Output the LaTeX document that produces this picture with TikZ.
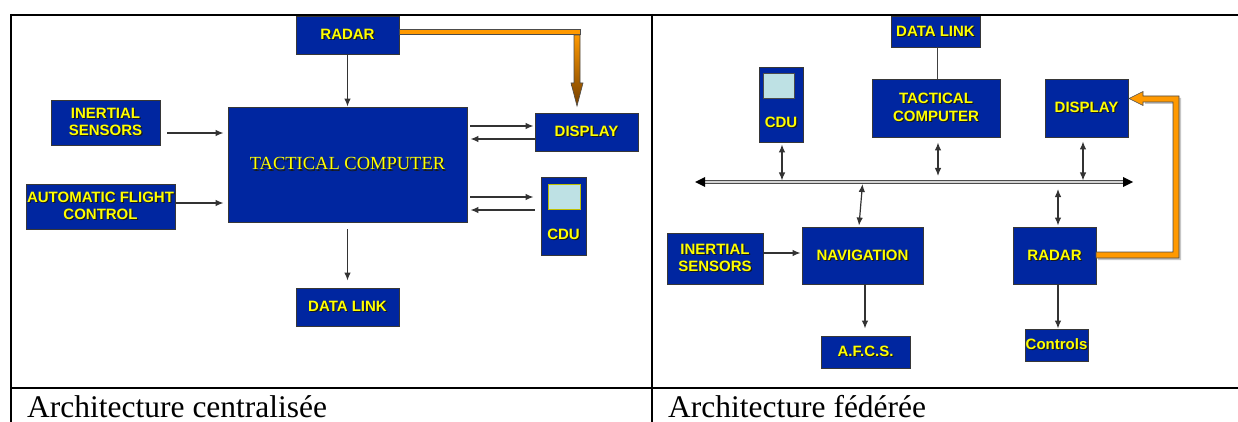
\documentclass[tikz,border=0pt]{standalone}
\usepackage{fontspec}
\setmainfont{Liberation Serif}
\newfontfamily\arialf{Liberation Sans}
\usetikzlibrary{arrows.meta,calc}
\definecolor{boxblue}{RGB}{0,38,160}
\definecolor{boxedge}{RGB}{55,55,55}
\definecolor{txtyel}{RGB}{255,255,0}
\definecolor{txtsh}{RGB}{25,25,25}
\definecolor{orng}{RGB}{255,153,0}
\definecolor{brwn}{RGB}{115,62,0}
\definecolor{scrn}{RGB}{190,225,228}
\newcommand\shd[1]{\makebox[0pt][l]{\hspace{1.1pt}\raisebox{-1.1pt}{\textcolor{txtsh}{#1}}}#1}
\begin{document}
\begin{tikzpicture}[x=1pt,y=-1pt,
  blk/.style={draw=boxedge, line width=0.9pt, fill=boxblue, text=txtyel, inner sep=0pt,
    font=\arialf\bfseries\fontsize{15}{17.5}\selectfont, align=center},
  lbl/.style={text=txtyel, inner sep=0pt, font=\arialf\bfseries\fontsize{15}{17.5}\selectfont},
  arr/.style={-{Latex[length=8pt,width=6.5pt]}, line width=1.2pt, draw=black!80},
  darr/.style={{Latex[length=8pt,width=6.5pt]}-{Latex[length=8pt,width=6.5pt]}, line width=1.2pt, draw=black!80},
  gridline/.style={line width=2pt, draw=black},
  captxt/.style={anchor=base west, inner sep=0pt, font=\fontsize{31.5}{36}\selectfont},
  orangebar/.style={fill=orng, draw=black!70, line width=0.6pt, line join=miter},
  screen/.style={fill=scrn, line width=0.6pt}
]
\useasboundingbox (0,0) rectangle (1238,422);

% table grid
\draw[gridline] (11,15) -- (1238,15);
\draw[gridline] (11,388) -- (1238,388);
\draw[gridline] (11,14) -- (11,422);
\draw[gridline] (652,14) -- (652,422);

% ---------------- left panel ----------------
\node[blk, minimum width=103pt, minimum height=38pt] (radarL) at (347.5,35) {\shd{RADAR}};
\node[blk, minimum width=239pt, minimum height=115pt, font=\rmfamily\fontsize{18.5}{22}\selectfont] (tcL) at (347.5,164.5) {\shd{TACTICAL COMPUTER}};
\node[blk, minimum width=109pt, minimum height=45pt] (isL) at (105.5,122.5) {\shd{INERTIAL}\\\shd{SENSORS}};
\node[blk, minimum width=149pt, minimum height=45pt] (afcL) at (100.5,206.5) {\shd{AUTOMATIC FLIGHT}\\\shd{CONTROL}};
\node[blk, minimum width=103pt, minimum height=38pt] (dispL) at (586.5,132) {\shd{DISPLAY}};
\node[blk, minimum width=45pt, minimum height=78pt] (cduL) at (563.5,216) {};
\draw[screen, draw=txtyel!75!black] (548,184) rectangle (580,209);
\node[lbl] (cduLt) at (563.5,235) {\shd{CDU}};
\node[blk, minimum width=103pt, minimum height=38pt] (dlL) at (347.5,307) {\shd{DATA LINK}};

\draw[arr] (radarL.south) -- (tcL.north);
\coordinate (a1) at ($(isL.east)+(7,10.5)$);
\draw[arr] (a1) -- ($(tcL.west|-a1)+(-4,0)$);
\coordinate (a2) at ($(afcL.east)+(0,-3.5)$);
\draw[arr] (a2) -- ($(tcL.west|-a2)+(-4,0)$);
\coordinate (a3) at ($(dispL.west)+(-1,-6)$);
\draw[arr] ($(tcL.east|-a3)+(3,0)$) -- (a3);
\coordinate (a4) at ($(dispL.west)+(0,7)$);
\draw[arr] (a4) -- ($(tcL.east|-a4)+(3,0)$);
\coordinate (a5) at ($(cduL.west)+(-7,-19)$);
\draw[arr] ($(tcL.east|-a5)+(3,0)$) -- (a5);
\coordinate (a6) at ($(cduL.west)+(-6,-6)$);
\draw[arr] (a6) -- ($(tcL.east|-a6)+(3,0)$);
\draw[arr] ($(tcL.south)+(0,7)$) -- ($(dlL.north)+(0,-7)$);

% orange link radar -> display (left)
\draw[orangebar] ($(radarL.east)+(0,-6)$) rectangle ($(radarL.east)+(181,-1)$);
\shadedraw[top color=orng, bottom color=brwn, draw=black!70, line width=0.6pt, line join=miter]
  (574,35) -- (580,35) -- (580,83) -- (583,83) -- (577,106) -- (571,83) -- (574,83) -- cycle;

% ---------------- right panel ----------------
\node[blk, minimum width=89pt, minimum height=31pt] (dlR) at (935.5,31.5) {\shd{DATA LINK}};
\node[blk, minimum width=128pt, minimum height=58pt] (tcR) at (936,108) {\shd{TACTICAL}\\\shd{COMPUTER}};
\node[blk, minimum width=44pt, minimum height=75pt] (cduR) at (781,104.5) {};
\draw[screen, draw=black!70] (763,73) rectangle (794,98);
\node[lbl] (cduRt) at (781,123) {\shd{CDU}};
\node[blk, minimum width=83pt, minimum height=58pt] (dispR) at (1086.5,108) {\shd{DISPLAY}};
\node[blk, minimum width=96pt, minimum height=51pt] (isR) at (715,258.5) {\shd{INERTIAL}\\\shd{SENSORS}};
\node[blk, minimum width=121pt, minimum height=57pt] (navR) at (862.5,255.5) {\shd{NAVIGATION}};
\node[blk, minimum width=83pt, minimum height=57pt] (radarR) at (1054.5,255.5) {\shd{RADAR}};
\node[blk, minimum width=89pt, minimum height=32pt] (afcsR) at (865.5,352) {\shd{A.F.C.S.}};
\node[blk, minimum width=63pt, minimum height=32pt] (ctrlR) at (1056.5,345) {\shd{Controls}};

% bus
\coordinate (busL) at (695,182);
\coordinate (busR) at (1133,182);
\draw[double=gray!35, double distance=2pt, line width=0.8pt, draw=black!70] ($(busL)+(8,0)$) -- ($(busR)+(-8,0)$);
\fill[black] (busL) -- ++(10,-5) -- ++(0,10) -- cycle;
\fill[black] (busR) -- ++(-10,-5) -- ++(0,10) -- cycle;

\draw[line width=1pt, draw=black!75] ($(dlR.south)+(1.5,0)$) -- ($(dlR.south|-tcR.north)+(1.5,0)$);
\draw[darr] ($(cduR.south)+(1,2)$) -- ($(cduR.south|-busL)+(1,-1.5)$);
\draw[darr] ($(tcR.south)+(2,5)$) -- ($(tcR.south|-busL)+(2,-6)$);
\draw[darr] ($(dispR.south)+(-3.5,4)$) -- ($(dispR.south|-busL)+(-3.5,-1.5)$);
\draw[darr] ($(navR.north|-busL)+(0,2)$) -- ($(navR.north)+(-3.5,-1)$);
\draw[darr] ($(radarR.north|-busL)+(3.5,7)$) -- ($(radarR.north)+(3.5,-1)$);
\coordinate (b1) at ($(isR.east)+(0,-5.5)$);
\draw[arr] (b1) -- ($(navR.west|-b1)+(-1,0)$);
\draw[arr] ($(afcsR.north|-navR.south)+(-0.5,0)$) -- ($(afcsR.north)+(-0.5,-7)$);
\draw[arr] ($(ctrlR.north|-radarR.south)+(1.5,0)$) -- ($(ctrlR.north)+(1.5,0)$);

% orange link radar -> display (right)
\fill[gray!45] (1098,254) -- (1175,254) -- (1175,104) -- (1145,104) -- (1145,98) -- (1181,98) -- (1181,260) -- (1098,260) -- cycle;
\draw[orangebar] (1096,252) -- (1173,252) -- (1173,102) -- (1143,102) -- (1143,105.5)
  -- (1129,98.5) -- (1143,91.5) -- (1143,96) -- (1179,96) -- (1179,258) -- (1096,258) -- cycle;

% captions
\node[captxt] (capL) at (27,417) {Architecture centralisée};
\node[captxt] (capR) at (668,417) {Architecture fédérée};
\end{tikzpicture}
\end{document}
